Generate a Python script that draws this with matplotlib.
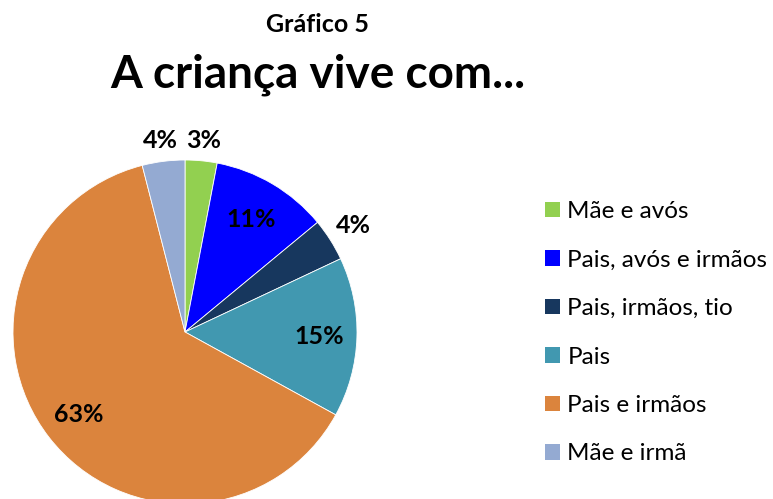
import numpy as np
import matplotlib.pyplot as plt
from matplotlib.patches import Patch

plt.rcParams['font.family'] = ['Lato', 'DejaVu Sans']

labels = ['Mãe e avós', 'Pais, avós e irmãos', 'Pais, irmãos, tio', 'Pais', 'Pais e irmãos', 'Mãe e irmã']
values = [3, 11, 4, 15, 63, 4]
colors = ['#92d050', '#0000ff', '#17375e', '#4198b0', '#db843d', '#94aad2']
label_dist = [1.12, 0.76, 1.16, 0.78, 0.78, 1.12]

fig = plt.figure(figsize=(7.73, 4.99), dpi=100)
ax = fig.add_axes([13 / 773, -5 / 499, 344 / 773, 344 / 499])

wedges, _ = ax.pie(values, colors=colors, startangle=90, counterclock=False,
                   radius=1, wedgeprops=dict(linewidth=0.6, edgecolor='white'))
ax.set_xlim(-1, 1)
ax.set_ylim(-1, 1)
ax.set_aspect('equal')

for w, v, d in zip(wedges, values, label_dist):
    ang = np.deg2rad((w.theta1 + w.theta2) / 2)
    ax.text(d * np.cos(ang), d * np.sin(ang), f'{v}%', ha='center', va='center',
            fontsize=18, fontweight='bold', clip_on=False)

fig.text(0.411, 0.950, 'Gráfico 5', ha='center', va='center', fontsize=18, fontweight='bold')
fig.text(0.411, 0.850, 'A criança vive com...', ha='center', va='center', fontsize=33, fontweight='bold')

handles = [Patch(facecolor=c, edgecolor='none') for c in colors]
fig.legend(handles, labels, loc='center left', bbox_to_anchor=(0.705, 0.333),
           frameon=False, fontsize=17.5, handlelength=0.62, handleheight=0.62,
           handletextpad=0.3, labelspacing=1.13, borderpad=0, borderaxespad=0)

fig.savefig('out.png', dpi=100)
